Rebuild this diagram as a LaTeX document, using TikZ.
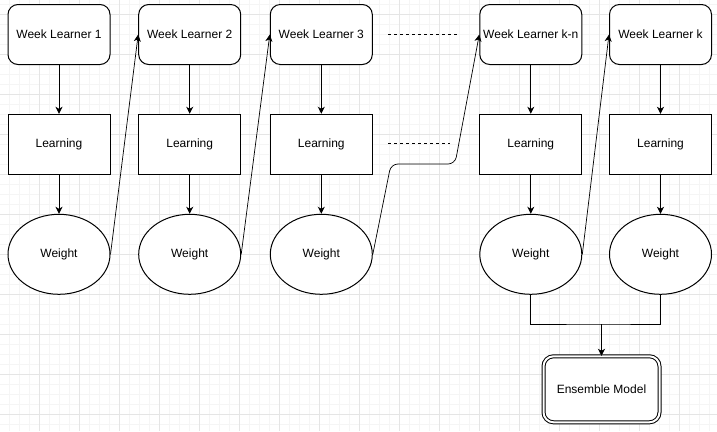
\documentclass[tikz,border=0pt]{standalone}
\usepackage{fontspec}
\setmainfont{Liberation Sans}
\usetikzlibrary{arrows.meta,shapes.geometric}

\begin{document}
\begin{tikzpicture}[x=1pt,y=-1pt,font=\fontsize{12}{14}\selectfont,
  minorgrid/.style={draw=gray!8,line width=1pt},
  majorgrid/.style={draw=gray!20,line width=1pt},
  learner/.style={draw,fill=white,rounded corners=10pt,minimum width=102pt,minimum height=60pt,inner sep=0pt,line width=1pt},
  learnbox/.style={draw,fill=white,rectangle,minimum width=102pt,minimum height=60pt,inner sep=0pt,line width=1pt},
  weightnode/.style={draw,fill=white,ellipse,minimum width=102pt,minimum height=80pt,inner sep=0pt,line width=1pt},
  ensbox/.style={draw,fill=white,rounded corners=10pt,double,double distance=2pt,minimum width=116pt,minimum height=66pt,inner sep=0pt,line width=1pt},
  flow/.style={-{Stealth[length=7pt,width=7pt,inset=2pt]},line width=1pt},
  hop/.style={flow,line width=0.7pt},
  gap/.style={dash pattern=on 3pt off 3pt,line width=1pt}]
\useasboundingbox (0,0) rectangle (717,431);
% background grid
\foreach \gx in {-1,9,...,719} {\draw[minorgrid] (\gx,0) -- (\gx,431);}
\foreach \gy in {4,14,...,434} {\draw[minorgrid] (0,\gy) -- (717,\gy);}
\foreach \gx in {-1,39,...,719} {\draw[majorgrid] (\gx,0) -- (\gx,431);}
\foreach \gy in {14,54,...,414} {\draw[majorgrid] (0,\gy) -- (717,\gy);}
% learner columns
\foreach \n/\x/\t in %
{1/59/1,2/189.7/2,3/321.3/3,4/530.8/k-n,5/660.5/k} {
   \node[learner] (wl\n) at (\x,34.5) {Week Learner \t};
   \node[learnbox] (lr\n) at (\x,144.3) {Learning};
   \node[weightnode] (wt\n) at (\x,254.3) {Weight};
   \draw[flow] (wl\n) -- (lr\n);
   \draw[flow] (lr\n) -- (wt\n);
}
\coordinate (bendA) at (391,164);
\coordinate (bendB) at (455,164);
\draw[hop] (wt1.east) -- (wl2.west);
\draw[hop] (wt2.east) -- (wl3.west);
\draw[hop,rounded corners=7pt] (wt3.east) -- (bendA) -- (bendB) -- (wl4.west);
\draw[hop] (wt4.east) -- (wl5.west);
% skipped learners
\coordinate (dotsA) at (388,34);
\coordinate (dotsB) at (457,34);
\coordinate (dotsC) at (388,143.5);
\coordinate (dotsD) at (450,143.5);
\draw[gap] (dotsA) -- (dotsB);
\draw[gap] (dotsC) -- (dotsD);
% ensemble
\node[ensbox] (ens) at (601.5,389.3) {Ensemble Model};
\coordinate (join) at (601.5,324);
\draw[line width=1pt] (wt4.south) |- (join) -| (wt5.south);
\draw[flow] (join) -- (ens);
\end{tikzpicture}
\end{document}
